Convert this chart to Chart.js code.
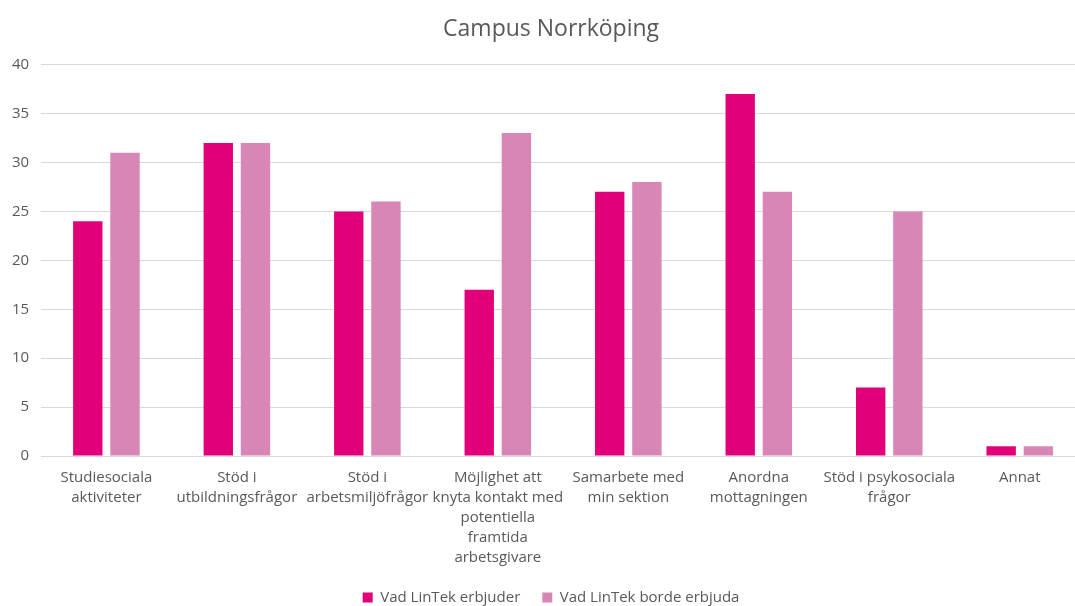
<!DOCTYPE html>
<html>
<head>
<meta charset="utf-8">
<script src="https://cdn.jsdelivr.net/npm/chart.js@4/dist/chart.umd.min.js"></script>
<style>
  html, body { margin: 0; padding: 0; background: #fff; overflow: hidden; }
  /* the Excel plot area runs past the right edge of the screenshot, so the canvas is a bit wider and gets cropped */
  #wrap { width: 1075px; height: 606px; overflow: hidden; }
</style>
</head>
<body>
<div id="wrap"><canvas id="chart" width="1085" height="606"></canvas></div>
<script>
var categories = [
  ['Studiesociala', 'aktiviteter'],
  ['Stöd i', 'utbildningsfrågor'],
  ['Stöd i', 'arbetsmiljöfrågor'],
  ['Möjlighet att', 'knyta kontakt med', 'potentiella', 'framtida', 'arbetsgivare'],
  ['Samarbete med', 'min sektion'],
  ['Anordna', 'mottagningen'],
  ['Stöd i psykosociala', 'frågor'],
  ['Annat']
];
var erbjuder = [24, 32, 25, 17, 27, 37, 7, 1];
var bordeErbjuda = [31, 32, 26, 33, 28, 27, 25, 1];
var seriesNames = ['Vad LinTek erbjuder', 'Vad LinTek borde erbjuda'];

var FONT = '"Open Sans", sans-serif';
var TXT = '#595959';

// legend keeps its wide item spacing but takes less height;
// title + legend get centred over the visible plot area like in Excel
var excelLayout = {
  id: 'excelLayout',
  beforeLayout: function(chart) {
    var lg = chart.legend;
    if (!lg || lg._tight) return;
    var fit = lg.fit;
    lg.fit = function() { fit.call(this); this.height -= 9; };
    lg._tight = true;
  },
  afterLayout: function(chart) {
    var a = chart.chartArea;
    [chart.titleBlock, chart.legend].forEach(function(b) {
      if (b) { b.left = a.left; b.right = a.right - 24; }
    });
  }
};

new Chart(document.getElementById('chart').getContext('2d'), {
  type: 'bar',
  data: {
    labels: categories,
    datasets: [
      { label: seriesNames[0], data: erbjuder, backgroundColor: '#e2007a', borderWidth: 0, categoryPercentage: 0.57, barPercentage: 0.79 },
      { label: seriesNames[1], data: bordeErbjuda, backgroundColor: '#d886b5', borderWidth: 0, categoryPercentage: 0.57, barPercentage: 0.79 }
    ]
  },
  plugins: [excelLayout],
  options: {
    responsive: false,
    animation: false,
    layout: { padding: { left: 0, right: 0, top: 12, bottom: 0 } },
    plugins: {
      title: { display: true, text: 'Campus Norrköping', color: TXT, font: { family: FONT, size: 23, weight: 'normal' }, padding: { top: 4, bottom: 21 } },
      legend: {
        position: 'bottom',
        labels: { color: TXT, font: { family: FONT, size: 15 }, boxWidth: 10, boxHeight: 10, padding: 22 }
      },
      tooltip: { enabled: false }
    },
    scales: {
      x: {
        grid: { display: false, drawTicks: false },
        border: { color: '#d9d9d9', width: 1 },
        ticks: { color: TXT, font: { family: FONT, size: 15, lineHeight: 1.333 }, padding: 12, maxRotation: 0, autoSkip: false },
        afterFit: function(scale) { scale.height -= 12; }
      },
      y: {
        min: 0, max: 40,
        grid: { color: '#d9d9d9', drawTicks: false },
        border: { display: false },
        ticks: { stepSize: 5, color: TXT, font: { family: FONT, size: 15 }, padding: 12 }
      }
    }
  }
});
</script>
</body>
</html>
